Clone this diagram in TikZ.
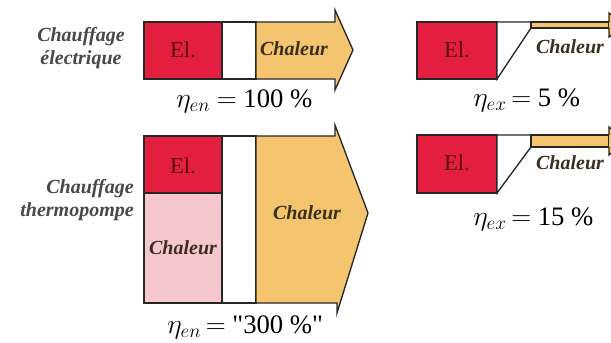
\documentclass[tikz,border=0pt]{standalone}
\usepackage{fontspec}
\setmainfont{Liberation Serif}
\definecolor{elred}{RGB}{228,30,62}
\definecolor{heat}{RGB}{245,196,110}
\definecolor{pinkheat}{RGB}{246,200,206}
\definecolor{labgray}{RGB}{72,72,72}
\definecolor{heattext}{RGB}{58,46,30}
\definecolor{eltext}{RGB}{90,10,20}
\tikzset{
  box/.style={draw=black!85, line width=1pt},
  eltxt/.style={font=\fontsize{17}{17}\selectfont, text=eltext, inner sep=0pt},
  heattxt/.style={font=\fontsize{15}{15}\selectfont\bfseries\itshape, text=heattext, inner sep=0pt},
  sidelab/.style={font=\fontsize{15}{17}\selectfont\bfseries\itshape, text=labgray, inner sep=0pt},
  eq/.style={font=\fontsize{20}{20}\selectfont, inner sep=0pt, anchor=west}
}
\begin{document}
\begin{tikzpicture}[x=0.75pt,y=-0.75pt]
\clip (0,0) rectangle (611,343);
\fill[white] (0,0) rectangle (611,343);
\useasboundingbox (0,0) rectangle (611,343);

% ---------- top left ----------
\draw[box, fill=elred] (144,22) rectangle (222,79);
\draw[box, fill=white] (222,22) rectangle (256,79);
\draw[box, fill=heat] (256,22) -- (335,22) -- (335,10) -- (353,50) -- (335,90) -- (335,79) -- (256,79) -- cycle;
\node[eltxt] (el1) at (183,50) {El.};
\node[heattxt] (ch1) at (294,49) {Chaleur};
\node[sidelab, align=center] (lab1) at (81,48) {Chauffage\\électrique};
\node[eq] (eq1) at (176,101) {$\eta_{en}$\ $=$\ 100 \%};

% ---------- top right ----------
\draw[box, fill=elred] (417,22) rectangle (497,79);
\draw[box, fill=white] (497,22) -- (531,22) -- (531,28) -- (497,79) -- cycle;
\draw[box, fill=heat] (531,22) rectangle (609,28);
\draw[box, fill=heat] (609,22) -- (609,13) -- (625,25) -- (609,37) -- (609,28);
\node[eltxt] (el2) at (457,50) {El.};
\node[heattxt] (ch2) at (570,47) {Chaleur};
\node[eq] (eq2) at (473,100) {$\eta_{ex}\,{=}$\ 5 \%};

% ---------- bottom left ----------
\draw[box, fill=elred] (144,136) rectangle (222,193);
\draw[box, fill=pinkheat] (144,193) rectangle (222,303);
\draw[box, fill=white] (222,136) rectangle (256,303);
\draw[box, fill=heat] (256,136) -- (335,136) -- (335,125) -- (368,213) -- (337,313) -- (337,303) -- (256,303) -- cycle;
\node[eltxt] (el3) at (183,166) {El.};
\node[heattxt] (ch3) at (183,248) {Chaleur};
\node[heattxt] (ch4) at (307,213) {Chaleur};
\node[sidelab, align=right, anchor=east] (lab2) at (134,200) {Chauffage\\thermopompe};
\node[eq] (eq3) at (167,327) {$\eta_{en}\,{=}$\ \textquotedbl300 \%\textquotedbl};

% ---------- bottom right ----------
\draw[box, fill=elred] (417,135) rectangle (497,193);
\draw[box, fill=white] (497,135) -- (531,135) -- (531,147) -- (497,193) -- cycle;
\draw[box, fill=heat] (531,135) rectangle (609,147);
\draw[box, fill=heat] (609,135) -- (609,127) -- (625,141) -- (609,155) -- (609,147);
\node[eltxt] (el4) at (457,163) {El.};
\node[heattxt] (ch5) at (570,163) {Chaleur};
\node[eq] (eq4) at (473,219) {$\eta_{ex}\,{=}$\ 15 \%};
\end{tikzpicture}
\end{document}
